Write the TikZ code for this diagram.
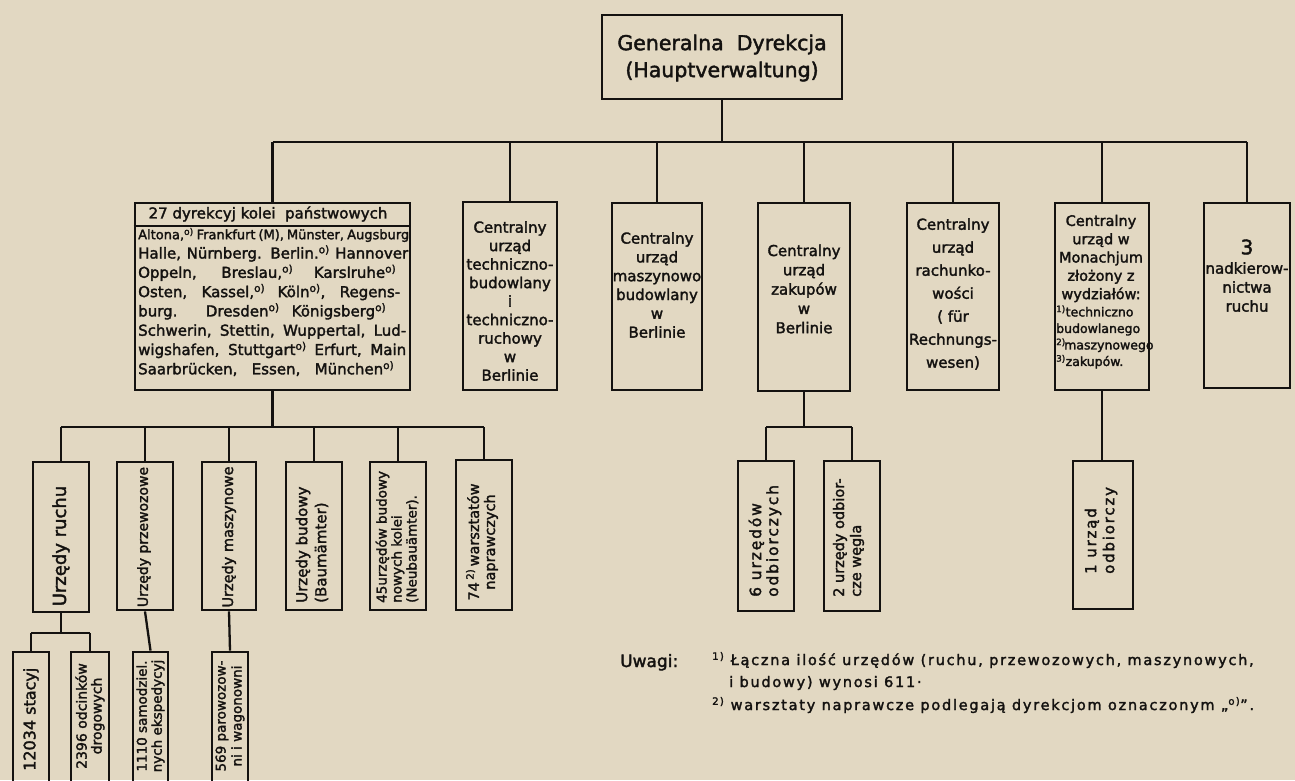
\documentclass[tikz,border=0pt]{standalone}
\usepackage{fontspec}
\setmainfont{DejaVu Sans}[FakeBold=2]
\newfontfamily\widefont{DejaVu Sans}[LetterSpace=12,FakeBold=2]
\definecolor{paper}{RGB}{226,216,194}
\definecolor{ink}{RGB}{20,18,16}
\newcommand{\fs}[2]{\fontsize{#1}{#2}\selectfont}
\newcommand{\dsup}{\textsuperscript{o)}}
\tikzset{
  box/.style={draw=ink, line width=2.8pt, rectangle, inner sep=0pt},
  conn/.style={draw=ink, line width=2.3pt},
  txt/.style={inner sep=0pt, align=center, text=ink},
  vtxt/.style={txt, rotate=90},
}
\begin{document}
\begin{tikzpicture}[x=1pt,y=-1pt]
\fill[paper] (0,0) rectangle (1295,780);
\useasboundingbox (0,0) rectangle (1295,780);
\coordinate (busT) at (0,142);
\coordinate (busL) at (0,427);
\coordinate (busS) at (0,633);
\coordinate (hdr) at (0,226);

% ---------- boxes ----------
\node[box, minimum width=240pt, minimum height=84pt] (gd) at (722,57) {};
\node[box, minimum width=275pt, minimum height=187pt] (dr) at (272.5,296.5) {};
\node[box, minimum width=94pt, minimum height=188pt] (tb) at (510,296) {};
\node[box, minimum width=90pt, minimum height=187pt] (mb) at (657,296.5) {};
\node[box, minimum width=92pt, minimum height=188pt] (zk) at (804,297) {};
\node[box, minimum width=92pt, minimum height=187pt] (rh) at (953,296.5) {};
\node[box, minimum width=94pt, minimum height=187pt] (mo) at (1102,296.5) {};
\node[box, minimum width=86pt, minimum height=185pt] (nk) at (1247,295.5) {};

\node[box, minimum width=56pt, minimum height=150pt] (ur) at (61,537) {};
\node[box, minimum width=56pt, minimum height=148pt] (up) at (145,536) {};
\node[box, minimum width=54pt, minimum height=148pt] (um) at (229,536) {};
\node[box, minimum width=56pt, minimum height=148pt] (ub) at (314,536) {};
\node[box, minimum width=56pt, minimum height=148pt] (un) at (398,536) {};
\node[box, minimum width=56pt, minimum height=150pt] (uw) at (484,535) {};

\node[box, minimum width=36pt, minimum height=133pt] (s1) at (31,718.5) {};
\node[box, minimum width=38pt, minimum height=133pt] (s2) at (90,718.5) {};
\node[box, minimum width=35pt, minimum height=133pt] (s3) at (150.5,718.5) {};
\node[box, minimum width=36pt, minimum height=133pt] (s4) at (230,718.5) {};

\node[box, minimum width=56pt, minimum height=150pt] (z1) at (766,536) {};
\node[box, minimum width=56pt, minimum height=150pt] (z2) at (852,536) {};
\node[box, minimum width=60pt, minimum height=148pt] (m1) at (1103,535) {};

\draw[box] (dr.west |- hdr) -- (dr.east |- hdr);

% ---------- connectors ----------
\draw[conn] (gd.south) -- (gd.south |- busT);
\draw[conn] (dr.north |- busT) -- (nk.north |- busT);
\foreach \c in {dr,tb,mb,zk,rh,mo,nk} {\draw[conn] (\c.north) -- (\c.north |- busT);}
\draw[conn] (dr.south) -- (dr.south |- busL);
\draw[conn] (ur.north |- busL) -- (uw.north |- busL);
\foreach \c in {ur,up,um,ub,un,uw} {\draw[conn] (\c.north) -- (\c.north |- busL);}
\draw[conn] (ur.south) -- (ur.south |- busS);
\draw[conn] (s1.north |- busS) -- (s2.north |- busS);
\foreach \c in {s1,s2} {\draw[conn] (\c.north) -- (\c.north |- busS);}
\draw[conn] (up.south) -- (s3.north);
\draw[conn] (um.south) -- (s4.north);
\draw[conn] (zk.south) -- (zk.south |- busL);
\draw[conn] (z1.north |- busL) -- (z2.north |- busL);
\foreach \c in {z1,z2} {\draw[conn] (\c.north) -- (\c.north |- busL);}
\draw[conn] (mo.south) -- (mo.south |- m1.north);

% ---------- texts ----------
\node[txt, font={\fs{20.5}{27}}] (gdt) at (722,58) {Generalna\ \ Dyrekcja\\(Hauptverwaltung)};

\node[txt, font={\fs{15}{17}}] (drh) at (268,214) {27 dyrekcyj kolei \ państwowych};
\node[txt, align=left, anchor=west, font={\fs{15}{19.3}}] (drb) at (138,302) {%
{\fs{13}{19.3}\makebox[271pt][s]{Altona,\dsup\ Frankfurt (M), Münster, Augsburg}}\\
\makebox[270pt][s]{Halle, Nürnberg. Berlin.\dsup\ Hannover}\\
\makebox[258pt][s]{Oppeln, Breslau,\dsup\ Karslruhe\dsup}\\
\makebox[262pt][s]{Osten, Kassel,\dsup\ Köln\dsup, Regens-}\\
\makebox[248pt][s]{burg. Dresden\dsup\ Königsberg\dsup}\\
\makebox[268pt][s]{Schwerin, Stettin, Wuppertal, Lud-}\\
\makebox[268pt][s]{wigshafen, Stuttgart\dsup\ Erfurt, Main}\\
\makebox[256pt][s]{Saarbrücken, Essen, München\dsup}};

\node[txt, font={\fs{15}{18.5}}] (tbt) at (510,301) {Centralny\\urząd\\techniczno-\\budowlany\\i\\techniczno-\\ruchowy\\w\\Berlinie};
\node[txt, font={\fs{15}{18.8}}] (mbt) at (657,285) {Centralny\\urząd\\maszynowo\\budowlany\\w\\Berlinie};
\node[txt, font={\fs{15}{19.3}}] (zkt) at (804,289) {Centralny\\urząd\\zakupów\\w\\Berlinie};
\node[txt, font={\fs{15}{23}}] (rht) at (953,294) {Centralny\\urząd\\rachunko-\\wości\\( für\\Rechnungs-\\wesen)};
\node[txt, font={\fs{14.5}{18.3}}] (mot1) at (1101,258.5) {Centralny\\urząd w\\Monachjum\\złożony z\\wydziałów:};
\node[txt, align=left, anchor=west, font={\fs{12.5}{16.5}}] (mot2) at (1056,337) {\textsuperscript{1)}techniczno\\budowlanego\\\textsuperscript{2)}\kern-1.5pt maszynowego\\\textsuperscript{3)}zakupów.};
\node[txt, font={\fs{20}{21}}] (nk3) at (1247,247) {3};
\node[txt, font={\fs{15}{19}}] (nkt) at (1247,287) {nadkierow-\\nictwa\\ruchu};

\node[vtxt, font={\fs{18}{20}}] (urt) at (61,546) {Urzędy ruchu};
\node[vtxt, font={\fs{14}{16}}] (upt) at (144,537) {Urzędy przewozowe};
\node[vtxt, font={\fs{14.5}{16}}] (umt) at (229,537) {Urzędy maszynowe};
\node[vtxt, align=left, anchor=west, font={\fs{15}{19}}] (ubt) at (312,603) {Urzędy budowy\\(Baumämter)};
\node[vtxt, align=left, anchor=west, font={\fs{13.5}{15}}] (unt) at (397,603) {45urzędów budowy\\nowych kolei\\(Neubauämter).};
\node[vtxt, font={\fs{14.5}{16}}] (uwt) at (482,542) {74\,\textsuperscript{2)}\,warsztatów\\naprawczych};

\node[vtxt, anchor=west, font={\fs{16}{16}}] (s1t) at (31,771) {12034 stacyj};
\node[vtxt, font={\fs{14}{15}}] (s2t) at (90,716) {2396 odcinków\\drogowych};
\node[vtxt, font={\fs{13.5}{15}}] (s3t) at (150.5,716) {1110 samodziel.\\nych ekspedycyj};
\node[vtxt, font={\fs{13.5}{16}}] (s4t) at (230,716) {569 parowozow-\\ni i wagonowni};

\node[vtxt, align=left, anchor=west, font={\widefont\fs{15.5}{17}}] (z1t) at (765,597) {6 urzędów\\odbiorczych};
\node[vtxt, align=left, anchor=west, font={\fs{14.5}{17}}] (z2t) at (848.5,597) {2 urzędy odbior-\\cze węgla};
\node[vtxt, align=left, anchor=west, font={\widefont\fs{15}{18}}] (m1t) at (1101,574) {1 urząd\\odbiorczy};

% ---------- notes ----------
\node[txt, anchor=base west, font={\fs{17}{18}}] (uw1) at (620,667) {Uwagi:};
\node[txt, anchor=base west, font={\widefont\fs{14.5}{15}}] (n1) at (712,665) {\textsuperscript{1)} Łączna ilość urzędów (ruchu, przewozowych, maszynowych,};
\node[txt, anchor=base west, font={\widefont\fs{14.5}{15}}] (n2) at (729,687) {i budowy) wynosi 611\textperiodcentered};
\node[txt, anchor=base west, font={\widefont\fs{14.5}{15}}] (n3) at (712,710) {\textsuperscript{2)} warsztaty naprawcze podlegają dyrekcjom oznaczonym „\dsup”.};
\end{tikzpicture}
\end{document}
